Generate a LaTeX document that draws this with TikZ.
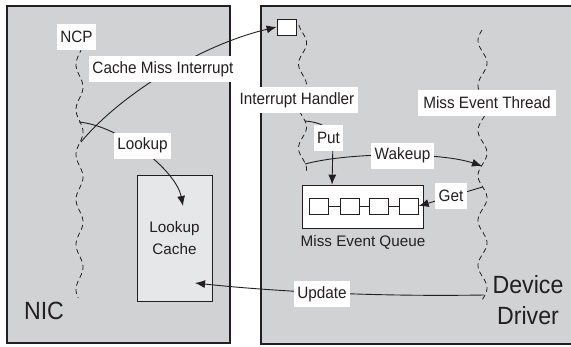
\documentclass[tikz,border=0pt]{standalone}
\usepackage{fontspec}
\setmainfont{Liberation Sans}
\newfontfamily\narrowsans[FakeStretch=0.93]{Liberation Sans}
\usetikzlibrary{arrows.meta,calc}
\definecolor{ink}{HTML}{231F20}
\definecolor{panel}{HTML}{D1D2D4}
\definecolor{cachefill}{HTML}{E6E7E8}
\begin{document}
\begin{tikzpicture}[x=1bp,y=-1bp,
  lbl/.style={fill=white, text=ink, font=\narrowsans\fontsize{16.5}{19}\selectfont, inner xsep=3.5bp, inner ysep=0pt, minimum height=26bp},
  plain/.style={text=ink, font=\fontsize{15.3}{18}\selectfont, inner sep=0pt},
  big/.style={text=ink, font=\narrowsans\fontsize{25}{31}\selectfont, inner sep=0pt, align=center},
  conn/.style={draw=ink, line width=0.9bp},
  arr/.style={conn, -{Latex[length=10bp,width=8bp]}},
  thread/.style={draw=ink, line width=0.8bp, dash pattern=on 5bp off 3.5bp},
  slot/.style={draw=ink, fill=white, line width=0.8bp, minimum width=19bp, minimum height=16bp, inner sep=0pt},
]
\useasboundingbox (0,0) rectangle (571,346);
% panels
\node[draw=ink, fill=panel, line width=1.8bp, minimum width=223bp, minimum height=337bp, inner sep=0pt] (nic) at (118.5,174.5) {};
\node[draw=ink, fill=panel, line width=1.2bp, minimum width=320bp, minimum height=338bp, inner sep=0pt] (drv) at (421,175) {};
% threads
\draw[thread] plot[domain=48:298, samples=150, variable=\t] ({79.5+3.5*cos(8*(\t-177))}, \t);
\draw[thread] plot[domain=25:172, samples=100, variable=\t] ({302.5+4*cos(8.571*(\t-43))}, \t);
\draw[thread] plot[domain=30:300, samples=160, variable=\t] ({482.5+4.5*cos(8*(\t-63))}, \t);
% boxes
\node[draw=ink, fill=cachefill, line width=0.8bp, minimum width=75bp, minimum height=126bp, inner sep=0pt, text=ink, align=center, font=\fontsize{15.3}{22}\selectfont] (cache) at (174.5,238) {Lookup\\Cache};
\node[slot] (irq) at (286.5,27) {};
\node[draw=ink, fill=white, line width=0.8bp, minimum width=121bp, minimum height=43bp, inner sep=0pt] (queue) at (362.5,206.5) {};
\node[slot] (q1) at (318.8,206) {};
\node[slot] (q2) at (349.4,206) {};
\node[slot] (q3) at (378.4,206) {};
\node[slot] (q4) at (408.8,206) {};
\draw[conn] (q1.east) -- (q2.west);
\draw[conn] (q2.east) -- (q3.west);
\draw[conn] (q3.east) -- (q4.west);
\node[plain] (qlbl) at (363,242) {Miss Event Queue};
% thread points
\coordinate (ncpA) at (81,142);
\coordinate (ncpB) at (79,122);
\coordinate (ihA) at (305,121);
\coordinate (ihB) at (305,164);
\coordinate (metA) at (482,166);
\coordinate (metB) at (482.5,187);
\coordinate (metC) at (484,295);
\coordinate (lookEnd) at (183,206);
\coordinate (updEnd) at (195,283);
\coordinate (putEnd) at ($(queue.north west)!0.25!(queue.north east)$);
% connectors
\draw[arr] (ncpA) .. controls (120,95) and (200,45) .. (irq.west);
\draw[arr] (ncpB) .. controls (120,126) and (176,170) .. (lookEnd);
\draw[arr] (ihA) .. controls (320,122) and (333,128) .. (333,140) -- (putEnd);
\draw[arr] (ihB) .. controls (350,152) and (440,152) .. (metA);
\draw[arr] (metB) -- (q4.east);
\draw[arr] (metC) .. controls (360,297) and (260,290) .. (updEnd);
% labels
\node[lbl] (ncp) at (76.5,37) {NCP};
\node[lbl] (cmi) at (163,69) {Cache Miss Interrupt};
\node[lbl] (look) at (142.5,145.5) {Lookup};
\node[lbl] (ih) at (297,100) {Interrupt Handler};
\node[lbl, inner xsep=5bp] (met) at (487,103) {Miss Event Thread};
\node[lbl] (put) at (328.5,137.5) {Put};
\node[lbl] (wake) at (402.5,155.5) {Wakeup};
\node[lbl] (get) at (451,196) {Get};
\node[lbl] (upd) at (322,294) {Update};
\node[big] (niclbl) at (44,311) {NIC};
\node[big] (drvlbl) at (528,300.5) {Device\\Driver};
\end{tikzpicture}
\end{document}
